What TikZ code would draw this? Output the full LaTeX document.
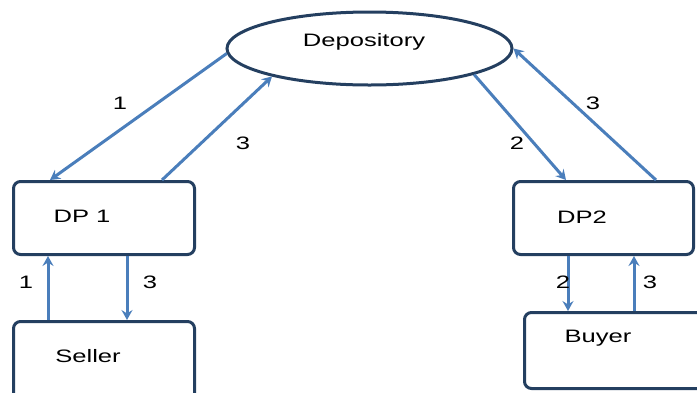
\documentclass[tikz,border=0pt]{standalone}
\usepackage{fontspec}
\setmainfont{Liberation Sans}[FakeStretch=1.42]
\usetikzlibrary{arrows.meta,calc,shapes.geometric}
\definecolor{boxc}{HTML}{243F60}
\definecolor{arrc}{HTML}{4A7EBB}
\begin{document}
\begin{tikzpicture}[x=1pt,y=-1pt,
  box/.style={draw=boxc,line width=3pt,rounded corners=7pt,inner sep=0pt,anchor=north west},
  arr/.style={draw=arrc,line width=3pt,-{Stealth[length=10pt,width=11pt,inset=3.5pt]}},
  txt/.style={font=\fontsize{18}{20}\selectfont,text=black,inner sep=0pt},
  num/.style={font=\fontsize{18}{20}\selectfont,text=black,inner sep=0pt}]
\useasboundingbox (0,0) rectangle (697,392);
\clip (0,0) rectangle (697,392);
\node[draw=boxc,line width=3pt,ellipse,minimum width=285pt,minimum height=73pt,inner sep=0pt] (dep) at (369.5,48.5) {};
\node[txt] (deplbl) at (364,42) {Depository};
\node[box,minimum width=181pt,minimum height=73pt] (dp1) at (12,180) {};
\node[txt] (dp1lbl) at (82,216) {DP 1};
\node[box,minimum width=180pt,minimum height=73pt] (dp2) at (512,180) {};
\node[txt] (dp2lbl) at (582,217) {DP2};
\node[box,minimum width=181pt,minimum height=110pt] (seller) at (12,320) {};
\node[txt] (sellerlbl) at (88,356) {Seller};
\node[box,minimum width=190pt,minimum height=76pt] (buyer) at (523,311) {};
\node[txt] (buyerlbl) at (598,338) {Buyer};
% Depository <-> DP1
\draw[arr] (dep.182) -- (dp1.north -| 50,0);
\draw[arr] (dp1.north -| 162,0) -- (dep.196);
\node[num] (l1a) at (120,103) {1};
\node[num] (l3a) at (243,143) {3};
% Depository <-> DP2
\draw[arr] (dep.-14) -- (dp2.north -| 566,0);
\draw[arr] (dp2.north -| 656,0) -- (dep.east);
\node[num] (l2b) at (517,143) {2};
\node[num] (l3b) at (593,103) {3};
% DP1 <-> Seller
\draw[arr] (seller.north -| 48,0) -- (dp1.south -| 48,0);
\draw[arr] (dp1.south -| 127,0) -- (seller.north -| 127,0);
\node[num] (l1c) at (26,282) {1};
\node[num] (l3c) at (150,282) {3};
% DP2 <-> Buyer
\draw[arr] (dp2.south -| 568,0) -- (buyer.north -| 568,0);
\draw[arr] (buyer.north -| 634,0) -- (dp2.south -| 634,0);
\node[num] (l2d) at (563,282) {2};
\node[num] (l3d) at (650,282) {3};
\end{tikzpicture}
\end{document}
